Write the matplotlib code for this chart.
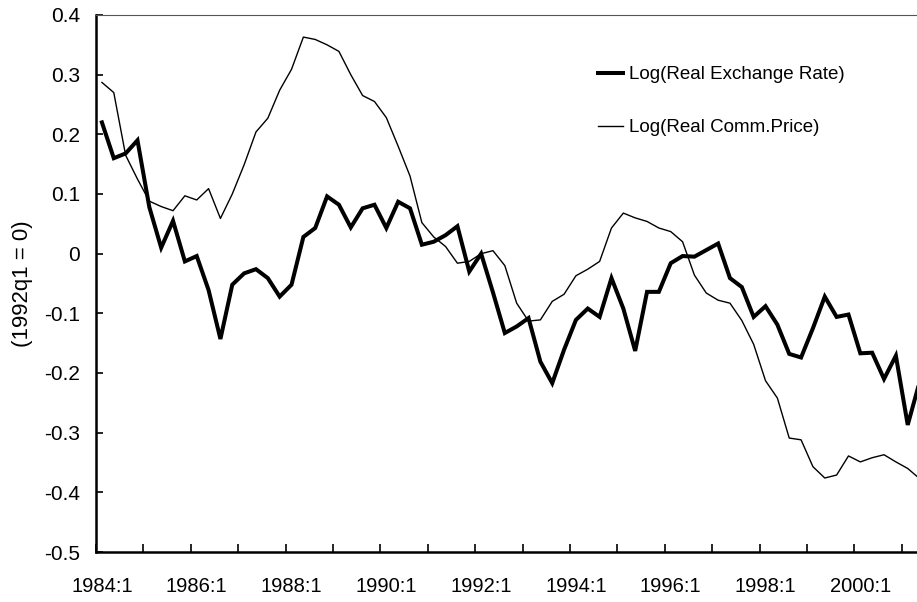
import numpy as np
import matplotlib
matplotlib.use("Agg")
import matplotlib.pyplot as plt

plt.rcParams['font.family'] = ['Liberation Sans', 'DejaVu Sans']

# quarterly data, 1984:1 onwards (1992q1 = 0)
real_exchange_rate = [
    0.220, 0.160, 0.168, 0.190, 0.078, 0.010, 0.055, -0.013, -0.004, -0.061,
    -0.143, -0.052, -0.033, -0.026, -0.041, -0.072, -0.052, 0.028, 0.043, 0.096,
    0.082, 0.044, 0.076, 0.082, 0.043, 0.087, 0.076, 0.015, 0.020, 0.031,
    0.046, -0.030, 0.000, -0.065, -0.133, -0.122, -0.108, -0.181, -0.217, -0.161,
    -0.111, -0.092, -0.106, -0.041, -0.092, -0.163, -0.064, -0.064, -0.016, -0.004,
    -0.005, 0.006, 0.017, -0.041, -0.056, -0.106, -0.088, -0.119, -0.168, -0.174,
    -0.125, -0.072, -0.106, -0.102, -0.167, -0.166, -0.210, -0.171, -0.287, -0.215,
]
real_comm_price = [
    0.287, 0.270, 0.165, 0.125, 0.088, 0.079, 0.072, 0.097, 0.090, 0.109,
    0.059, 0.100, 0.149, 0.204, 0.227, 0.274, 0.309, 0.363, 0.359, 0.350,
    0.339, 0.300, 0.265, 0.255, 0.228, 0.180, 0.130, 0.052, 0.028, 0.012,
    -0.016, -0.013, 0.000, 0.005, -0.020, -0.083, -0.113, -0.111, -0.080, -0.068,
    -0.037, -0.026, -0.013, 0.043, 0.068, 0.060, 0.054, 0.043, 0.037, 0.020,
    -0.036, -0.066, -0.078, -0.083, -0.112, -0.152, -0.213, -0.242, -0.309, -0.312,
    -0.357, -0.376, -0.371, -0.339, -0.349, -0.342, -0.337, -0.349, -0.360, -0.377,
]
x_labels = ['1984:1', '1986:1', '1988:1', '1990:1', '1992:1',
            '1994:1', '1996:1', '1998:1', '2000:1']
y_ticks = [0.4, 0.3, 0.2, 0.1, 0, -0.1, -0.2, -0.3, -0.4, -0.5]
y_labels = ['0.4', '0.3', '0.2', '0.1', '0', '-0.1', '-0.2', '-0.3', '-0.4', '-0.5']

x = np.arange(len(real_exchange_rate))

fig = plt.figure(figsize=(9.17, 6.02), dpi=100)
ax = fig.add_axes([96 / 917, 50 / 602, 821 / 917, 537 / 602])

ax.plot(x, real_exchange_rate, color='black', lw=2.9, solid_joinstyle='miter',
        label='Log(Real Exchange Rate)')
ax.plot(x, real_comm_price, color='black', lw=1.0,
        label='Log(Real Comm.Price)')

ax.set_xlim(-0.5, -0.5 + 821 / 11.85)
ax.set_ylim(-0.5, 0.4)

# tick marks on category boundaries, labels on categories
ax.set_xticks(np.arange(-0.5, 70, 4))
ax.set_xticklabels([])
ax.set_xticks(np.arange(0, 8 * len(x_labels), 8), x_labels, minor=True)
ax.tick_params(axis='x', which='major', direction='in', length=6, width=1.2)
ax.tick_params(axis='x', which='minor', length=0, pad=18, labelsize=14.5)

ax.set_yticks(y_ticks, y_labels)
ax.tick_params(axis='y', direction='in', length=5, width=1.2, pad=11.5, labelsize=15)

ax.set_ylabel('(1992q1 = 0)', fontsize=16, labelpad=8)

for s in ['left', 'bottom']:
    ax.spines[s].set_linewidth(1.8)
ax.spines['top'].set_linewidth(0.8)
ax.spines['top'].set_color('#555555')
ax.spines['right'].set_visible(False)

leg = ax.legend(loc='upper left', bbox_to_anchor=(598 / 917, 1 - 66 / 602),
                bbox_transform=fig.transFigure, frameon=False, fontsize=13.5,
                handlelength=1.35, handletextpad=0.3, labelspacing=1.92,
                borderpad=0, borderaxespad=0)

fig.savefig('out.png', dpi=100)
